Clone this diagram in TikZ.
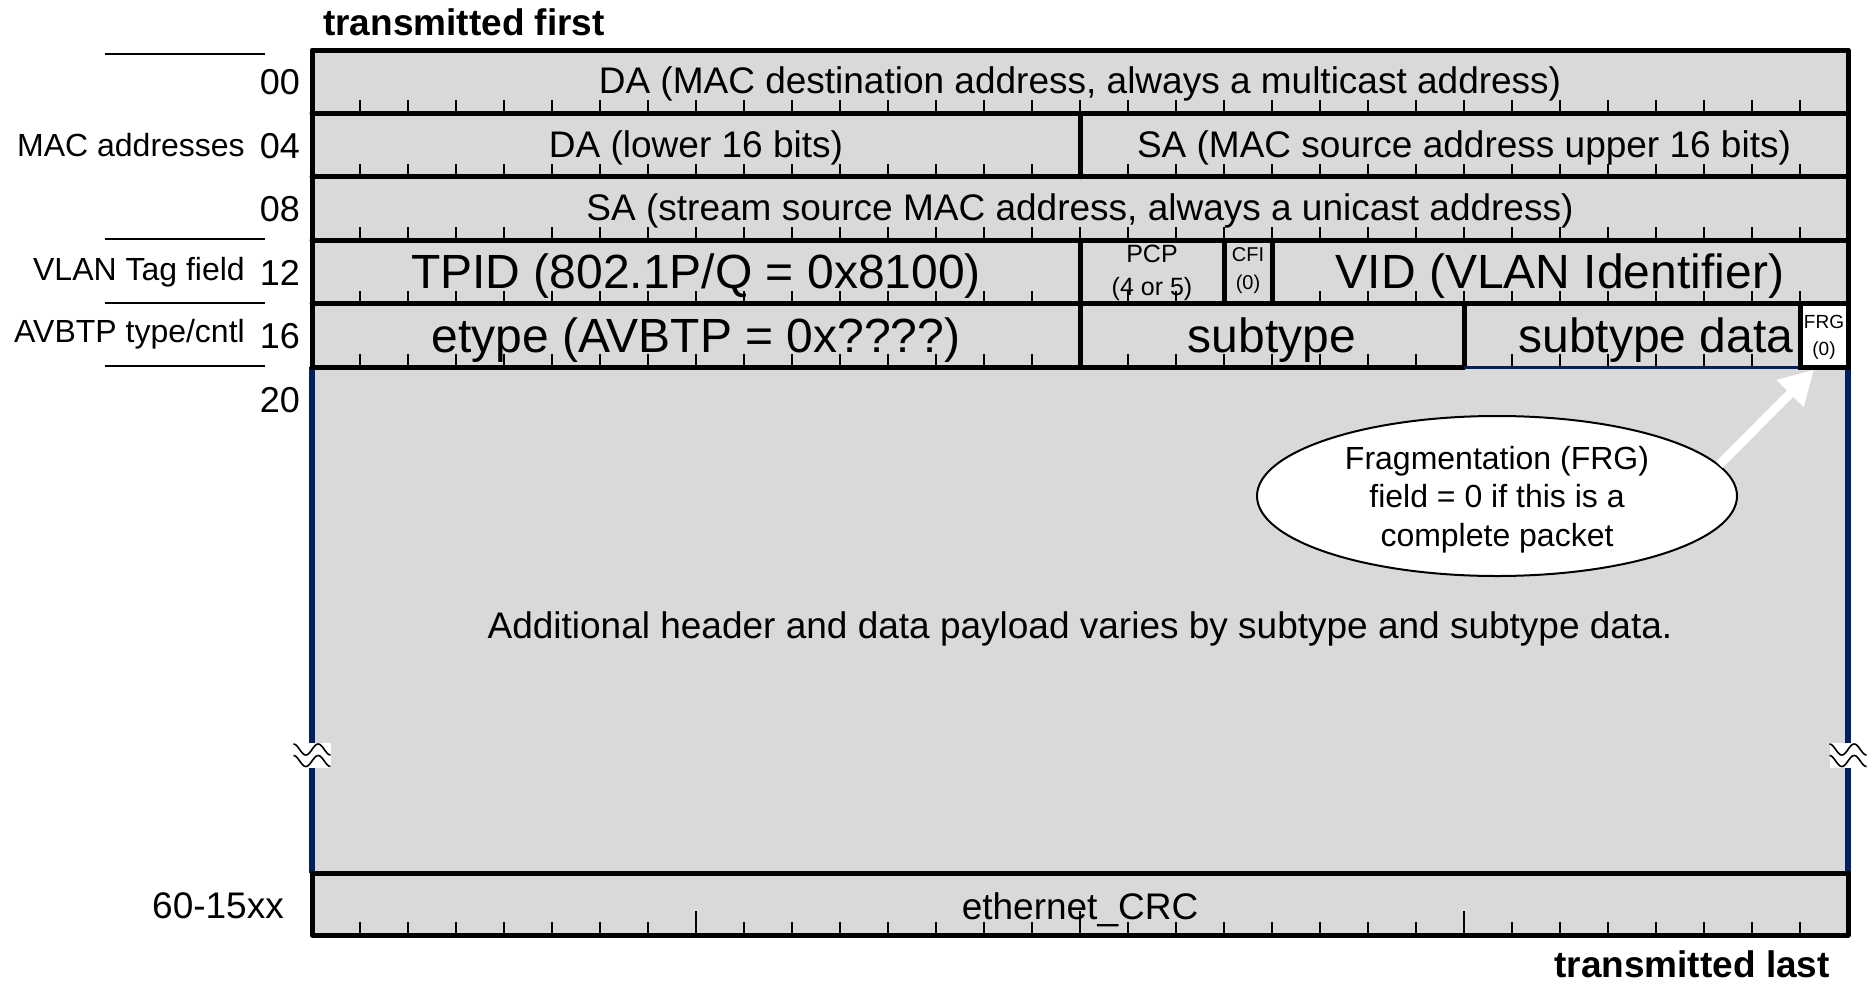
\documentclass[tikz,border=0pt]{standalone}
\usepackage{fontspec}
\setmainfont{Liberation Sans}
\usetikzlibrary{shapes.geometric,arrows.meta}
\definecolor{cellgray}{RGB}{217,217,217}
\definecolor{navyblue}{RGB}{0,32,96}
\newcommand{\fsz}[2]{\fontsize{#1}{#2}\selectfont}
\begin{document}
\begin{tikzpicture}[x=1pt,y=-1pt,
  rowtxt/.style={inner sep=0pt, font=\fsz{37}{44}},
  bigtxt/.style={inner sep=0pt, font=\fsz{48}{58}},
  numlbl/.style={inner sep=0pt, anchor=east, font=\fsz{36}{43}},
  sidelbl/.style={inner sep=0pt, anchor=east, font=\fsz{32}{38}},
  border/.style={line width=5pt, line join=round, line cap=round},
  tickln/.style={line width=1.7pt},
  sideline/.style={line width=2pt}]
\useasboundingbox (0,0) rectangle (1874,983);
% background fill
\fill[cellgray] (312,50) rectangle (1848,935);
\draw[navyblue, line width=6pt] (312,367) -- (312,873);
\draw[navyblue, line width=6pt] (1848,367) -- (1848,873);
% row texts
\node[rowtxt] (da) at (1080,84.2) {DA (MAC destination address, always a multicast address)};
\node[rowtxt] (dalow) at (696,147.6) {DA (lower 16 bits)};
\node[rowtxt] (sahi) at (1464,147.6) {SA (MAC source address upper 16 bits)};
\node[rowtxt] (sa) at (1080,211) {SA (stream source MAC address, always a unicast address)};
\node[bigtxt] (tpid) at (696,276.5) {TPID (802.1P/Q = 0x8100)};
\node[inner sep=0pt, align=center, font=\fsz{25}{33}] (pcp) at (1152,272.5) {PCP\\(4 or 5)};
\node[inner sep=0pt, align=center, font=\fsz{20}{28}] (cfi) at (1248,271) {CFI\\(0)};
\node[bigtxt] (vid) at (1560,276.5) {VID (VLAN Identifier)};
\node[bigtxt] (etype) at (696,340) {etype (AVBTP = 0x????)};
\node[bigtxt] (subtype) at (1272,340) {subtype};
\node[bigtxt] (stdata) at (1656,340) {subtype data};
\node[rowtxt] (payload) at (1080,628.5) {Additional header and data payload varies by subtype and subtype data.};
\node[rowtxt] (crc) at (1080,910) {ethernet\_CRC};
% ticks
\foreach \yb in {113.4,176.8,240.2,303.6,367}{
  \foreach \b in {1,...,31}{
    \draw[tickln] ({312+48*\b},\yb) -- ++(0,-13);
  }
}
\foreach \b in {1,...,31}{
  \pgfmathsetmacro{\tl}{mod(\b,8)==0 ? 24 : 13}
  \draw[tickln] ({312+48*\b},935) -- ++(0,-\tl);
}
% borders
\draw[border] (312,367) -- (312,50) -- (1848,50) -- (1848,367);
\draw[border] (312,367) -- (1464,367);
\foreach \yl in {113.4,176.8,240.2,303.6}{
  \draw[border] (312,\yl) -- (1848,\yl);
}
\draw[border] (1080,113.4) -- (1080,176.8);
\draw[border] (1080,240.2) -- (1080,303.6);
\draw[border] (1224,240.2) -- (1224,303.6);
\draw[border] (1272,240.2) -- (1272,303.6);
\draw[border] (1080,303.6) -- (1080,367);
\draw[border] (1464,303.6) -- (1464,367);
\draw[navyblue, line width=3pt] (1464,367) -- (1800,367);
\draw[border] (312,873) rectangle (1848,935);
% FRG box
\node[draw, line width=5pt, fill=white, minimum width=48pt, minimum height=63.4pt, inner sep=0pt] (frg) at (1824,335.3) {};
\node[inner sep=0pt, align=center, font=\fsz{19}{27}] (frgtxt) at (1824,337) {FRG\\(0)};
% left labels
\node[numlbl] (n00) at (300,82.5) {00};
\node[numlbl] (n04) at (300,146) {04};
\node[numlbl] (n08) at (300,209.5) {08};
\node[numlbl] (n12) at (300,273) {12};
\node[numlbl] (n16) at (300,336.5) {16};
\node[numlbl] (n20) at (300,400) {20};
\node[sidelbl] (lmac) at (245,145.5) {MAC addresses};
\node[sidelbl] (lvlan) at (245,272.5) {VLAN Tag field};
\node[sidelbl] (lavb) at (245,334.5) {AVBTP type/cntl};
\node[rowtxt] (n60) at (218,906) {60-15xx};
\draw[sideline] (105,54) -- (265,54);
\draw[sideline] (105,239) -- (265,239);
\draw[sideline] (105,303) -- (265,303);
\draw[sideline] (105,366) -- (265,366);
% captions
\node[inner sep=0pt, anchor=west, font=\bfseries\fsz{37}{44}] (tfirst) at (323,22) {transmitted first};
\node[inner sep=0pt, anchor=east, font=\bfseries\fsz{37}{44}] (tlast) at (1830,964) {transmitted last};
% callout
\node[ellipse, draw, line width=2pt, fill=white, minimum width=480pt, minimum height=160pt, inner sep=0pt] (note) at (1497,496) {};
\node[inner sep=0pt, align=center, font=\fsz{32}{38.5}] (notetxt) at (1497,499.5) {Fragmentation (FRG)\\field = 0 if this is a\\complete packet};
\draw[white, line width=9pt, -{Triangle[length=34pt,width=36pt]}] (note.8) -- ([xshift=-10pt]frg.south);
% break symbols
\foreach \cx in {312,1848}{
  \fill[white] ({\cx-18.5},743) rectangle ({\cx+18.5},768);
  \draw[line width=1.6pt] plot[domain=0:1, samples=40, smooth] ({\cx-18.5+37*\x},{749.5-5.5*cos(540*\x)});
  \draw[line width=1.6pt] plot[domain=0:1, samples=40, smooth] ({\cx-18.5+37*\x},{761-5.5*cos(540*\x)});
}
\end{tikzpicture}
\end{document}
